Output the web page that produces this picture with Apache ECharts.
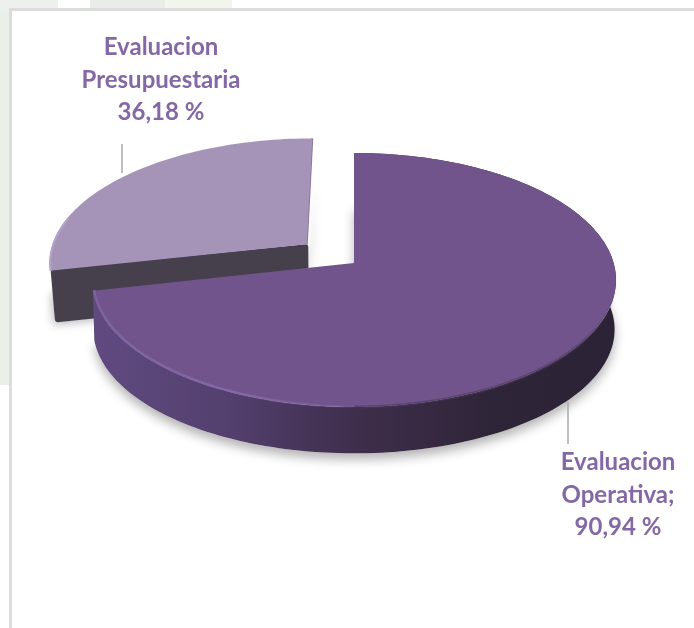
<!DOCTYPE html>
<html>
<head>
<meta charset="utf-8">
<style>html,body{margin:0;padding:0;background:#fff}#c{width:694px;height:628px}</style>
<script src="https://cdn.jsdelivr.net/npm/echarts@6/dist/echarts.min.js"></script>
</head>
<body>
<div id="c"></div>
<script>
const categories = ['Evaluacion Operativa', 'Evaluacion Presupuestaria'];
const values = [90.94, 36.18];
const tickLabels = ['Evaluacion\nOperativa;\n90,94 %', 'Evaluacion\nPresupuestaria\n36,18 %'];
const drawOrder = [1, 0];

// Perspective view of the pie plane
const view = { cx: 354, cy: 263, a: 124.7, b: 259.6, k: 0.1338, depth: 50, baseScale: 0.975 };
const explode = [[0, 0], [0.238, 0.245]];
const total = values.reduce((s, v) => s + v, 0);

function project(u, v, low) {
  const s = low ? view.baseScale : 1, w = 1 + view.k * v;
  return [view.cx + view.b * (low ? 0.995 : 1) * u / w,
          view.cy + (low ? view.depth : 0) - view.a * s * v / w];
}
function rimPoints(t0, t1, off, low) {
  const out = [], n = Math.max(8, Math.ceil((t1 - t0) * 40));
  for (let i = 0; i <= n; i++) {
    const t = t0 + (t1 - t0) * i / n;
    out.push(project(Math.sin(t) + off[0], Math.cos(t) + off[1], low));
  }
  return out;
}
const hGrad = (stops) => ({ type: 'linear', x: 0, y: 0, x2: 1, y2: 0,
  colorStops: stops.map(s => ({ offset: s[0], color: s[1] })) });

const sideFill = hGrad([[0, '#604a80'], [0.25, '#54406f'], [0.5, '#3f2e4c'], [0.75, '#2f2539'], [1, '#2b2236']]);
const topFill = ['#70548b', '#a594b8'];

function renderSlice(params, api) {
  const val = api.value(0), i = api.value(1);
  let start = 0;
  for (let j = 0; j < i; j++) start += values[j];
  const t0 = start / total * 2 * Math.PI, t1 = (start + val) / total * 2 * Math.PI;
  const mid = (t0 + t1) / 2;
  const off = [Math.sin(mid) * explode[i][0], Math.cos(mid) * explode[i][1]];
  const topRim = rimPoints(t0, t1, off, false);
  const lowRim = rimPoints(t0, t1, off, true);
  const vTop = project(off[0], off[1], false), vLow = project(off[0], off[1], true);
  const endTop = topRim[topRim.length - 1];
  const children = [];

  if (i === 0) {
    // ground shadow, then the outer wall
    children.push({ type: 'polygon', shape: { points: [vLow].concat(lowRim) },
      style: { fill: '#fff', shadowBlur: 11, shadowOffsetY: 6, shadowColor: 'rgba(0,0,0,0.3)' } });
    children.push({ type: 'polygon', shape: { points: topRim.concat(lowRim.slice().reverse()) },
      style: { fill: sideFill } });
  } else {
    const a = topRim[0], b = lowRim[0];
    const cut = [[vTop[0] - 1, vTop[1] + 2.5], [a[0] + 3.5, a[1] + 1], [b[0] + 6, b[1] - 1], [vLow[0] - 1, vLow[1] - 1]];
    // shadow behind the upright cut edge and under the cut face
    children.push({ type: 'polygon', shape: { points: [vTop, [endTop[0], endTop[1] + 42], vLow] },
      style: { fill: '#fff', shadowBlur: 10, shadowOffsetX: 3, shadowColor: 'rgba(0,0,0,0.22)' } });
    children.push({ type: 'polygon', shape: { points: [[a[0] + 3, a[1] + 20], [b[0] + 3.5, b[1] + 1.5], [vLow[0], vLow[1] + 1.5], vTop] },
      style: { fill: '#fff', shadowBlur: 9, shadowOffsetY: 3, shadowOffsetX: -2, shadowColor: 'rgba(0,0,0,0.25)' } });
    children.push({ type: 'polygon', shape: { points: cut },
      style: { fill: '#45404c', stroke: '#45404c', lineWidth: 5, lineJoin: 'round' } });
    children.push({ type: 'line', shape: { x1: vTop[0], y1: vTop[1], x2: endTop[0], y2: endTop[1] },
      style: { stroke: '#8a7a9f', lineWidth: 2 } });
  }
  // top face
  children.push({ type: 'polygon', shape: { points: [vTop].concat(topRim) }, style: { fill: topFill[i] } });
  if (i === 0) {
    // soft bevel along the front rim
    children.push({ type: 'polyline', shape: { points: rimPoints(1.62, Math.PI, off, false) },
      style: { fill: 'none', stroke: hGrad([[0, 'rgba(70,54,88,0.55)'], [0.85, 'rgba(70,54,88,0.55)'], [1, 'rgba(70,54,88,0)']]), lineWidth: 3 } });
    children.push({ type: 'polyline', shape: { points: rimPoints(Math.PI, t1, off, false).map(p => [p[0] + 1, p[1] - 0.5]) },
      style: { fill: 'none', stroke: hGrad([[0, '#7d62a0'], [0.55, '#8468a6'], [1, 'rgba(132,104,166,0.15)']]), lineWidth: 2.5 } });
  } else {
    children.push({ type: 'polyline', shape: { points: rimPoints(t0, t0 + (t1 - t0) * 0.25, off, false).map(p => [p[0] + 1, p[1]]) },
      style: { fill: 'none', stroke: '#b3a4c8', lineWidth: 2 } });
  }
  return { type: 'group', children };
}

const chart = echarts.init(document.getElementById('c'), null, { renderer: 'canvas' });
const labelStyle = { fontFamily: 'Lato', fontWeight: 'bold', fontSize: 24, lineHeight: 32.5, fill: '#8467a5', textAlign: 'center', textVerticalAlign: 'middle' };
chart.setOption({
  animation: false,
  backgroundColor: '#fff',
  graphic: [
    { type: 'rect', z: 0, shape: { x: 0, y: 0, width: 9, height: 385 }, style: { fill: '#e9efe9' } },
    { type: 'rect', z: 0, shape: { x: 0, y: 0, width: 58, height: 9 }, style: { fill: '#edf1ec' } },
    { type: 'rect', z: 0, shape: { x: 90, y: 0, width: 75, height: 9 }, style: { fill: '#e8ede8' } },
    { type: 'rect', z: 0, shape: { x: 165, y: 0, width: 67, height: 9 }, style: { fill: '#f2f5ec' } },
    { type: 'line', z: 0, shape: { x1: 10.5, y1: 9.5, x2: 10.5, y2: 628 }, style: { stroke: '#dcdcdc', lineWidth: 3 } },
    { type: 'line', z: 0, shape: { x1: 9, y1: 9.5, x2: 694, y2: 9.5 }, style: { stroke: '#dcdcdc', lineWidth: 3 } },
    { type: 'line', z: 5, shape: { x1: 122, y1: 144, x2: 122, y2: 173 }, style: { stroke: '#aaaaaa', lineWidth: 1.5 } },
    { type: 'line', z: 5, shape: { x1: 568, y1: 402, x2: 568, y2: 444 }, style: { stroke: '#aaaaaa', lineWidth: 1.5 } },
    { type: 'text', z: 5, x: 618, y: 495, style: Object.assign({ text: tickLabels[0] }, labelStyle) },
    { type: 'text', z: 5, x: 161, y: 80, style: Object.assign({ text: tickLabels[1] }, labelStyle) }
  ],
  series: [{
    type: 'custom',
    coordinateSystem: 'none',
    silent: true,
    renderItem: renderSlice,
    // the rear slice is drawn first, so the larger slice overlaps it
    data: drawOrder.map(k => ({ name: categories[k], value: [values[k], k] })),
    z: 2
  }]
});
</script>
</body>
</html>
